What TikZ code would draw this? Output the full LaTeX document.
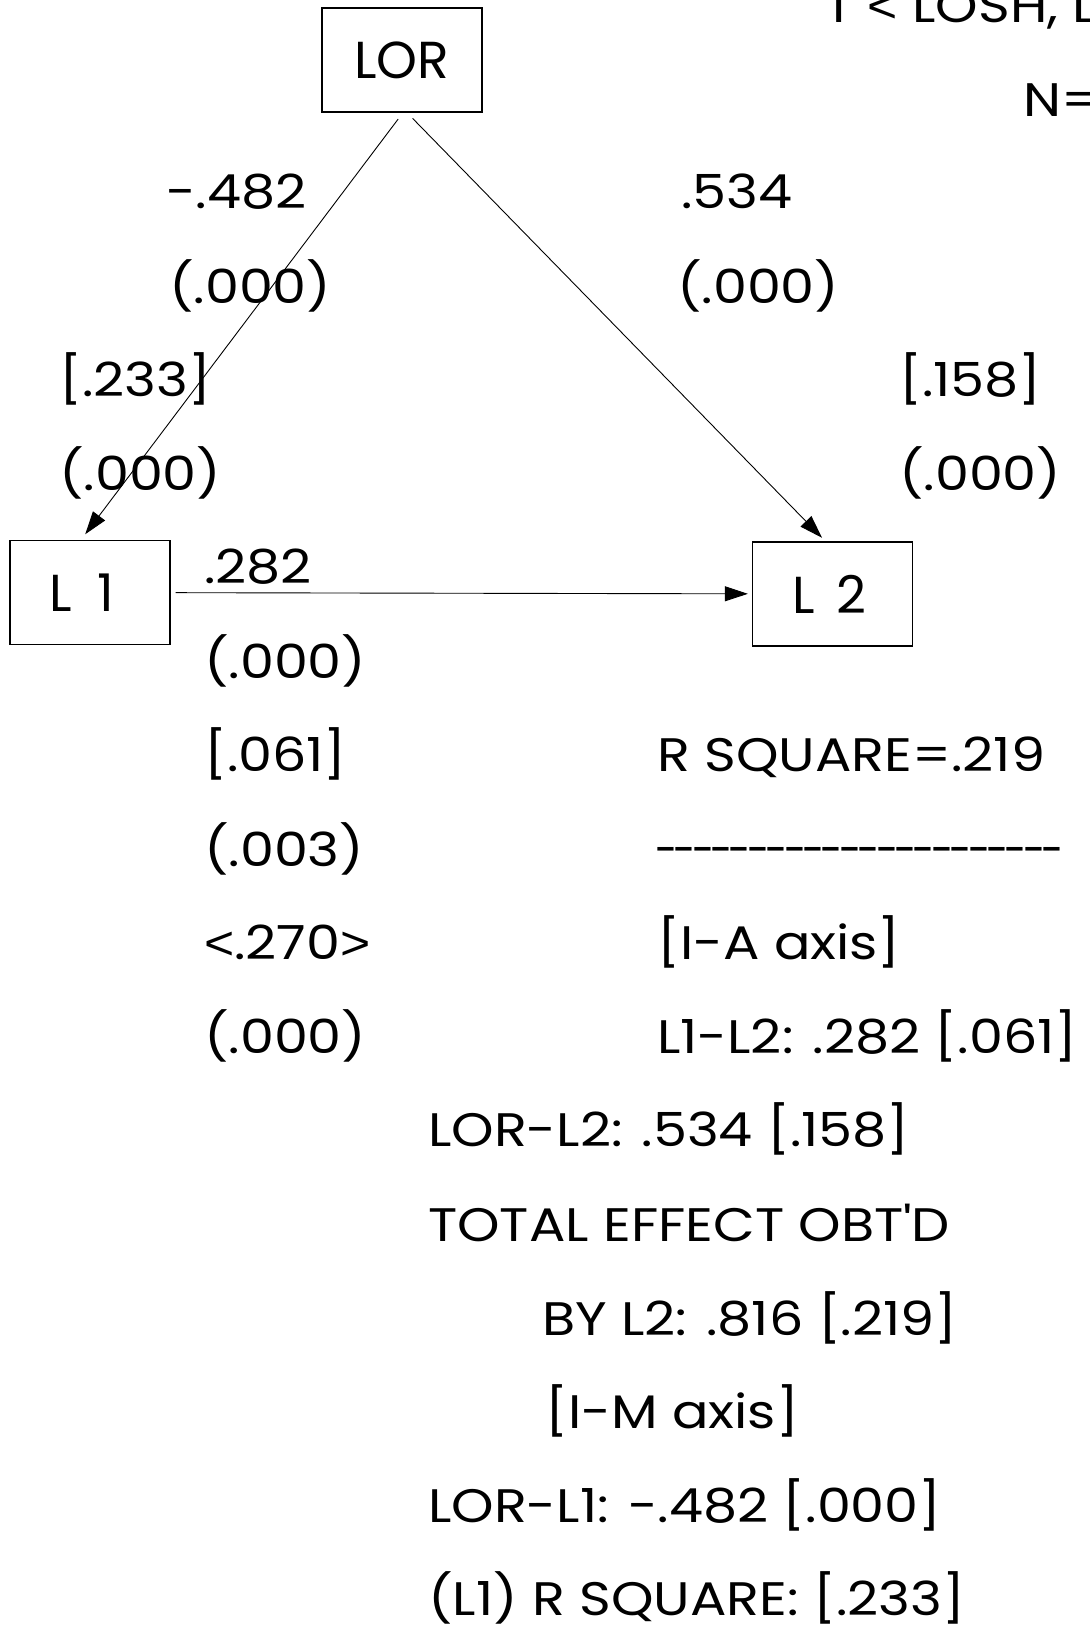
\documentclass[tikz,border=0pt]{standalone}
\usepackage{fontspec}
\setmainfont{Poppins}[FakeStretch=1.15]
\newfontfamily\boxfont{Poppins}
\newfontfamily\relfont{Liberation Sans}
\usetikzlibrary{arrows.meta}

\newcommand\onedash{\makebox[18.4pt]{\scalebox{0.75}[1]{-}}}
\newcommand\dashrow{\foreach \k in {1,...,22}{\onedash}}
\newcommand\lt{{\relfont\scalebox{1.1}[1]{<}}}
\newcommand\gt{{\relfont\scalebox{1.1}[1]{>}}}

\begin{document}
\begin{tikzpicture}[x=1pt,y=-1pt]
    % Styles
    \tikzset{
      var box/.style={draw, line width=1.3pt, minimum width=160pt, minimum height=104pt, inner sep=0pt,
                      font=\boxfont\fontsize{52}{60}\selectfont},
      coef/.style={anchor=base west, inner sep=0pt, font=\fontsize{47}{55}\selectfont},
      path arrow/.style={line width=0.9pt, -{Triangle[length=23pt,width=15pt]}}
    }

    % --- Page frame ---
    \useasboundingbox (0,0) rectangle (1089,1629);
    \clip (0,0) rectangle (1089,1629);

    % --- Variables ---
    \node[var box] (LOR) at (402,60) {LOR};
    \node[var box] (L1) at (90,592.5) {\hspace{-16pt}L\hspace{26pt}1};
    \node[var box] (L2) at (832.5,594) {\hspace{-6pt}L\hspace{22pt}2};

    % --- Paths ---
    \draw[path arrow, shorten <=8pt, shorten >=7pt] ([xshift=1pt]LOR.south) -- ([xshift=-9pt]L1.north);
    \draw[path arrow, shorten <=8pt, shorten >=5pt] ([xshift=5pt]LOR.south) -- ([xshift=-7pt]L2.north);
    \draw[path arrow, shorten <=5pt, shorten >=4pt] (L1) -- (L2);

    % --- Heading (runs off the page) ---
    \node[coef] (head) at (824,23) {T \lt{} LOSH, L};
    \node[coef] (nobs) at (1023,117) {N=};

    % --- LOR -> L1 ---
    \node[coef] (b1) at (166,209) {-.482};
    \node[coef] (p1) at (169,303) {(.000)};
    \node[coef] (r1) at (59,396) {[.233]};
    \node[coef] (q1) at (59,490) {(.000)};

    % --- LOR -> L2 ---
    \node[coef] (b2) at (681,209) {.534};
    \node[coef] (p2) at (677,303) {(.000)};
    \node[coef] (r2) at (899,396) {[.158]};
    \node[coef] (q2) at (899,490) {(.000)};

    % --- L1 -> L2 ---
    \node[coef] (b3) at (204,583) {.282};
    \node[coef] (p3) at (204,678) {(.000)};
    \node[coef] (r3) at (204,771) {[.061]};
    \node[coef] (q3) at (204,866) {(.003)};
    \node[coef] (t3) at (204,959) {\lt.270\gt};
    \node[coef] (s3) at (204,1053) {(.000)};

    % --- Summary ---
    \node[coef] (rsq) at (657,771) {R SQUARE=.219};
    \node[coef] (rule) at (657,866) {\dashrow};
    \node[coef] (ia) at (657,959) {[I-A axis]};
    \node[coef] (ia1) at (657,1053) {L1-L2: .282 [.061]};
    \node[coef] (ia2) at (428,1146) {LOR-L2: .534 [.158]};
    \node[coef] (tot) at (428,1241) {TOTAL EFFECT OBT\textquotesingle D};
    \node[coef] (tot2) at (542,1335) {BY L2: .816 [.219]};
    \node[coef] (im) at (545,1428) {[I-M axis]};
    \node[coef] (im1) at (428,1522) {LOR-L1: -.482 [.000]};
    \node[coef] (im2) at (428,1615) {(L1) R SQUARE: [.233]};
\end{tikzpicture}
\end{document}
